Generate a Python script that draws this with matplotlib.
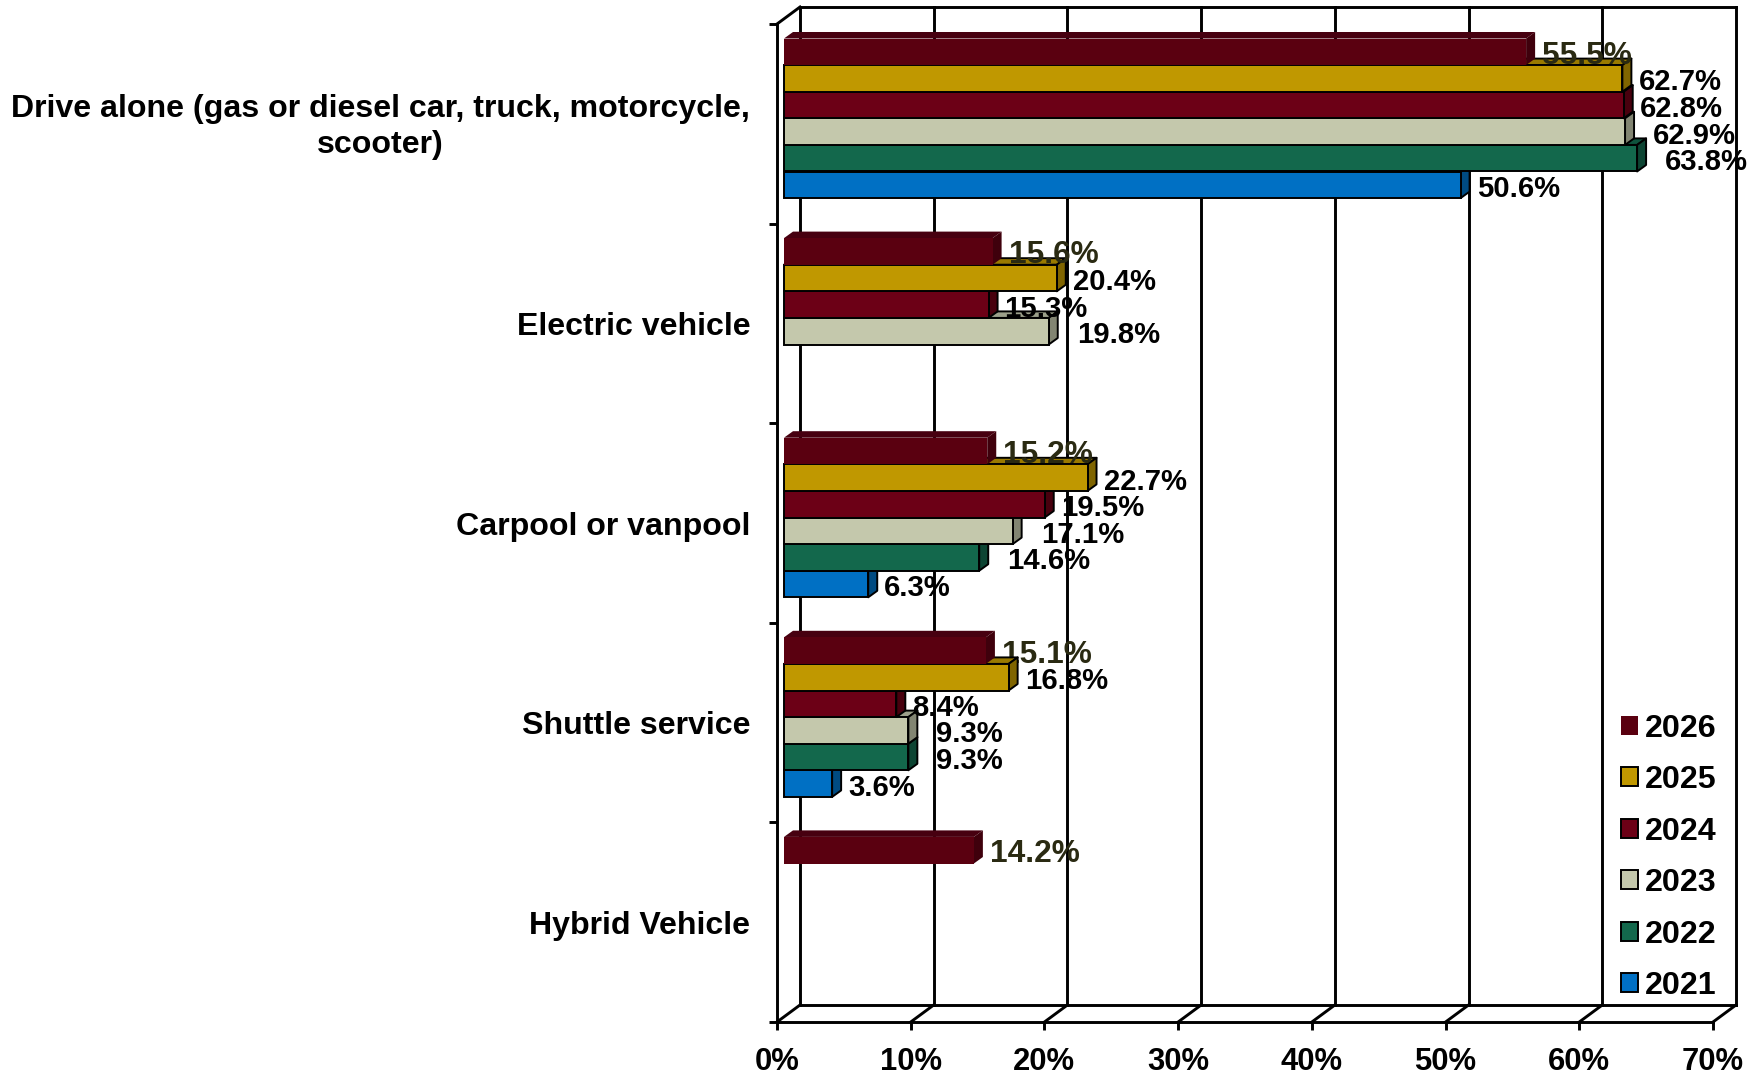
import matplotlib
matplotlib.use("Agg")
from matplotlib import pyplot as plt
from matplotlib.patches import Patch, Polygon
from matplotlib.transforms import ScaledTranslation
import numpy as np

plt.rcParams['font.family'] = ['Liberation Sans', 'DejaVu Sans']
plt.rcParams['font.weight'] = 'bold'

categories = ['Drive alone (gas or diesel car, truck, motorcycle,\nscooter)',
              'Electric vehicle', 'Carpool or vanpool', 'Shuttle service', 'Hybrid Vehicle']
years = ['2026', '2025', '2024', '2023', '2022', '2021']
y2026 = [55.5, 15.6, 15.2, 15.1, 14.2]
y2025 = [62.7, 20.4, 22.7, 16.8, np.nan]
y2024 = [62.8, 15.3, 19.5, 8.4, np.nan]
y2023 = [62.9, 19.8, 17.1, 9.3, np.nan]
y2022 = [63.8, np.nan, 14.6, 9.3, np.nan]
y2021 = [50.6, np.nan, 6.3, 3.6, np.nan]
series = [y2026, y2025, y2024, y2023, y2022, y2021]
x_ticks = [0, 10, 20, 30, 40, 50, 60, 70]

colors = ['#5A0010', '#C09800', '#6C0016', '#C4C8AC', '#13684C', '#0070C4']
top_colors = ['#470010', '#9A7A00', '#560012', '#9CA08A', '#0F533D', '#005A9D']
side_colors = ['#3F000C', '#806500', '#48000E', '#828572', '#0D4533', '#004B82']
edges = ['none', 'black', 'black', 'black', 'black', 'black']
label_colors = ['#2A2A12', 'black', 'black', 'black', 'black', 'black']
label_sizes = [22.8, 21.1, 21.1, 21.1, 21.1, 21.1]
label_offsets = [16, 16, 16, 28, 28, 16]

W, H = 1762, 1075
PX_X = 70 / 936  # data units per pixel
PX_Y = 5 / 998
WALL_DX, WALL_DY = 23 * PX_X, 17 * PX_Y
BAR_X0, BAR_Y0 = 7 * PX_X, 5.5 * PX_Y
BAR_DX, BAR_DY = 9 * PX_X, 6.5 * PX_Y
BAR_H = 26.6 * PX_Y
LW = 2.1

fig = plt.figure(figsize=(W / 100, H / 100), dpi=100, facecolor='white')
ax = fig.add_axes([777 / W, (H - 1022) / H, 936 / W, 998 / H])
ax.set_xlim(0, 70)
ax.set_ylim(5, 0)
for s in ['top', 'right']:
    ax.spines[s].set_visible(False)
for s in ['left', 'bottom']:
    ax.spines[s].set_linewidth(LW)

ax.set_xticks(x_ticks)
ax.set_xticklabels(['{}%'.format(t) for t in x_ticks], fontsize=22.3, fontweight='bold')
ax.set_yticks(range(6))
ax.set_yticklabels([])
ax.set_yticks(np.arange(5) + 0.5, categories, minor=True, fontsize=23.1, fontweight='bold')
ax.tick_params(axis='x', width=LW, length=6, pad=12)
ax.tick_params(axis='y', which='major', width=LW, length=6)
ax.tick_params(axis='y', which='minor', length=0, pad=19.3)
for lab in ax.get_yticklabels(minor=True):
    lab.set_multialignment('center')
    lab.set_linespacing(1.27)
first = ax.get_yticklabels(minor=True)[0]
first.set_transform(first.get_transform() + ScaledTranslation(0, 3.4 / 100, fig.dpi_scale_trans))

# back wall and floor
line = dict(color='black', lw=LW, clip_on=False, zorder=1, solid_capstyle='projecting')
for t in x_ticks:
    ax.plot([t + WALL_DX, t + WALL_DX], [-WALL_DY, 5 - WALL_DY], **line)
    ax.plot([t, t + WALL_DX], [5, 5 - WALL_DY], **line)
ax.plot([WALL_DX, 70 + WALL_DX], [-WALL_DY, -WALL_DY], **line)
ax.plot([WALL_DX, 70 + WALL_DX], [5 - WALL_DY, 5 - WALL_DY], **line)
ax.plot([0, WALL_DX], [0, -WALL_DY], **line)

# bottom bar first so that each bar covers the top of the one below
z = 2
for cat in range(len(categories)):
    for j in range(5, -1, -1):
        v = series[j][cat]
        if np.isnan(v):
            continue
        y = cat + 0.5 - BAR_Y0 + (j - 2.5) * BAR_H
        t, b = y - BAR_H / 2, y + BAR_H / 2
        r = BAR_X0 + v
        style = dict(edgecolor=edges[j], lw=1.4, clip_on=False, joinstyle='round')
        ax.add_patch(Polygon([(BAR_X0, t), (BAR_X0 + BAR_DX, t - BAR_DY), (r + BAR_DX, t - BAR_DY), (r, t)],
                             facecolor=top_colors[j], zorder=z, **style))
        ax.add_patch(Polygon([(r, t), (r + BAR_DX, t - BAR_DY), (r + BAR_DX, b - BAR_DY), (r, b)],
                             facecolor=side_colors[j], zorder=z, **style))
        ax.barh(y, v, left=BAR_X0, height=BAR_H, color=colors[j], zorder=z + 0.5, clip_on=False,
                edgecolor=edges[j], linewidth=1.4)
        ax.annotate('{:.1f}%'.format(v), xy=(r, y), xytext=(label_offsets[j], -4),
                    textcoords='offset pixels', va='center', ha='left', fontsize=label_sizes[j],
                    fontweight='bold', color=label_colors[j], zorder=20, annotation_clip=False)
        z += 1

handles = [Patch(facecolor=colors[i], edgecolor='black' if edges[i] != 'none' else 'none', linewidth=1.4, label=years[i])
           for i in range(6)]
ax.legend(handles=handles, loc='lower left', bbox_to_anchor=(1621 / W, (H - 1001) / H),
          bbox_transform=fig.transFigure, frameon=False, prop={'size': 23.2, 'weight': 'bold'},
          borderpad=0, borderaxespad=0, handlelength=0.53, handleheight=0.53,
          handletextpad=0.22, labelspacing=0.665)

fig.savefig('out.png', dpi=100, facecolor='white')
